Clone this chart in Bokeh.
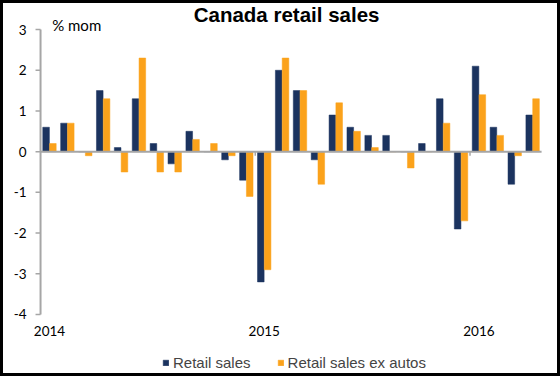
from bokeh.plotting import figure
from bokeh.models import (Range1d, Label, Legend, LegendItem, Column)
from bokeh.core.properties import value
from bokeh.embed import file_html
from bokeh.resources import INLINE

# ---- data ----
months = ["2014-01", "2014-02", "2014-03", "2014-04", "2014-05", "2014-06",
          "2014-07", "2014-08", "2014-09", "2014-10", "2014-11", "2014-12",
          "2015-01", "2015-02", "2015-03", "2015-04", "2015-05", "2015-06",
          "2015-07", "2015-08", "2015-09", "2015-10", "2015-11", "2015-12",
          "2016-01", "2016-02", "2016-03", "2016-04"]
retail_sales = [0.6, 0.7, 0.0, 1.5, 0.1, 1.3, 0.2, -0.3, 0.5, 0.0, -0.2, -0.7,
                -3.2, 2.0, 1.5, -0.2, 0.9, 0.6, 0.4, 0.4, 0.0, 0.2, 1.3, -1.9,
                2.1, 0.6, -0.8, 0.9]
retail_ex_autos = [0.2, 0.7, -0.1, 1.3, -0.5, 2.3, -0.5, -0.5, 0.3, 0.2, -0.1, -1.1,
                   -2.9, 2.3, 1.5, -0.8, 1.2, 0.5, 0.1, 0.0, -0.4, 0.0, 0.7, -1.7,
                   1.4, 0.4, -0.1, 1.3]
y_ticks = [3, 2, 1, 0, -1, -2, -3, -4]
series_names = ["Retail sales", "Retail sales ex autos"]
title_text = "Canada retail sales"
unit_text = "% mom"

NAVY = "#1b335f"
ORANGE = "#fba21b"
GREY = "#a6a6a6"

n = len(months)
idx = list(range(n))
x_rs = [i + 0.5 - 0.19 for i in idx]
x_ex = [i + 0.5 + 0.19 for i in idx]
year_starts = [i for i, m in enumerate(months) if m.endswith("-01")]
year_x = [i + 0.5 for i in year_starts]
year_txt = [months[i][:4] for i in year_starts]
boundaries = [i for i in year_starts if i > 0]
ymin, ymax = min(y_ticks), max(y_ticks)

# the frame covers the whole inner canvas; axis, labels, title and legend live inside it
p = figure(width=554, height=370, output_backend="svg", toolbar_location=None,
           x_axis_location=None, y_axis_location=None,
           x_range=Range1d(-2.07, n + 0.89), y_range=Range1d(ymin - 1.45, ymax + 0.64),
           min_border=0, background_fill_color="white", border_fill_color="white")
p.outline_line_color = None
p.xgrid.visible = False
p.ygrid.visible = False

r1 = p.vbar(x=x_rs, top=retail_sales, bottom=0, width=0.37,
            fill_color=NAVY, line_color=NAVY, line_width=0.5)
r2 = p.vbar(x=x_ex, top=retail_ex_autos, bottom=0, width=0.37,
            fill_color=ORANGE, line_color=ORANGE, line_width=0.5)

# zero line and year-boundary ticks
p.segment(x0=[0], x1=[n], y0=[0], y1=[0], line_color=GREY, line_width=2)
p.segment(x0=boundaries, x1=boundaries, y0=[0] * len(boundaries),
          y1=[-0.1] * len(boundaries), line_color=GREY, line_width=1.5)

# value axis
p.segment(x0=[0], x1=[0], y0=[ymin], y1=[ymax], line_color=GREY, line_width=2)
p.segment(x0=[-0.28] * len(y_ticks), x1=[0] * len(y_ticks), y0=y_ticks, y1=y_ticks,
          line_color=GREY, line_width=1.5)
p.text(x=[-0.78] * len(y_ticks), y=y_ticks, text=[str(t) for t in y_ticks],
       text_font=value("Lato"), text_font_size="13.5px", text_align="right",
       text_baseline="middle", text_color="black")

# year labels
p.text(x=year_x, y=[ymin - 0.4] * len(year_x), text=year_txt,
       text_font=value("Lato"), text_font_size="13.5px", text_align="center",
       text_baseline="middle", text_color="black")

# title and unit
p.add_layout(Label(x=n / 2 - 0.25, y=ymax + 0.38, text=title_text, text_font="Liberation Sans",
                   text_font_style="bold", text_font_size="20.5px", text_align="center",
                   text_baseline="middle", text_color="black"))
p.add_layout(Label(x=0.65, y=ymax + 0.1, text=unit_text, text_font="Lato",
                   text_font_size="15px", text_baseline="middle", text_color="black"))

legend = Legend(items=[LegendItem(label=series_names[0], renderers=[r1]),
                       LegendItem(label=series_names[1], renderers=[r2])],
                orientation="horizontal", location=(159, 2),
                label_text_font="Liberation Sans", label_text_font_size="15px",
                label_height=14, glyph_width=7, glyph_height=7, spacing=26, label_standoff=4,
                border_line_color=None, background_fill_alpha=0, padding=0, margin=0)
p.add_layout(legend)

layout = Column(children=[p], styles={"border": "3px solid black"})

open("out.html", "w").write(file_html(layout, INLINE))
